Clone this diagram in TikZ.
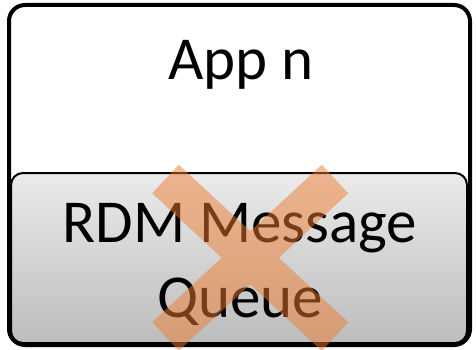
\documentclass[tikz,border=0pt]{standalone}
\usepackage{fontspec}
\setmainfont{Carlito}
\begin{document}
\begin{tikzpicture}[x=1pt,y=-1pt,
  outerbox/.style={draw=black,line width=4pt,rounded corners=16pt,fill=white},
  queuebox/.style={draw=black,line width=2pt,rounded corners=12pt,top color=black!8,bottom color=black!26},
  bigtext/.style={font=\fontsize{61}{75}\selectfont,text=black,inner sep=0pt},
  cross/.style={draw=xorange,draw opacity=0.5,line width=39pt,line cap=butt}]
\definecolor{xorange}{RGB}{237,125,49}
\useasboundingbox (0,0) rectangle (476,350);
\draw[outerbox] (9,5) rectangle (470,345);
\draw[queuebox] (11,173) rectangle (467,343);
\node[bigtext,anchor=base] (app) at (241,80) {App n};
\node[bigtext,anchor=base,align=center] (rdm) at (240,317) {RDM Message\\Queue};
\coordinate (x1) at (165.5,179);
\coordinate (x2) at (335,336.5);
\coordinate (x3) at (335,179);
\coordinate (x4) at (165.5,336.5);
\draw[cross] (x1) -- (x2) (x3) -- (x4);
\end{tikzpicture}
\end{document}
